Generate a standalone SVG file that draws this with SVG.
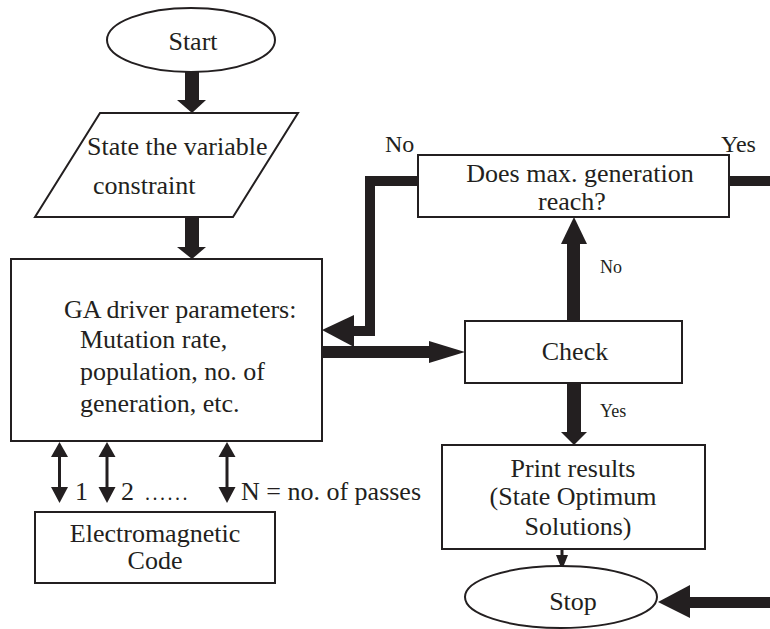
<svg xmlns="http://www.w3.org/2000/svg" width="770" height="629" viewBox="0 0 770 629">
<style>
.box{fill:#fff;stroke:#231f20;stroke-width:2}
text{font-family:'Liberation Serif','DejaVu Serif',serif;fill:#231f20}
.t{font-size:26px}
.s{font-size:18px}
.c{text-anchor:middle}
.f{fill:#231f20;stroke:none}
.th{fill:none;stroke:#231f20;stroke-width:10;stroke-linejoin:miter}
</style>
<rect width="770" height="629" fill="#fff"/>
<g id="connectors">
  <rect class="f" x="185" y="72" width="14" height="29"/>
  <polygon class="f" points="177,100 206,100 192,113"/>
  <rect class="f" x="185" y="217" width="14" height="31"/>
  <polygon class="f" points="177,247 206,247 192,259"/>
  <rect class="f" x="322" y="346" width="108" height="12"/>
  <polygon class="f" points="429,341 429,363 465,352"/>
  <rect class="f" x="567" y="243" width="13" height="78"/>
  <polygon class="f" points="561,244 587,244 574,217"/>
  <rect class="f" x="567" y="383" width="14" height="50"/>
  <polygon class="f" points="561,432 587,432 574,445"/>
  <polyline class="th" points="418,181 370,181 370,331 352,331"/>
  <polygon class="f" points="322,330 354,315 354,347"/>
  <line class="th" x1="729" y1="181" x2="770" y2="181"/>
  <rect class="f" x="689" y="597" width="81" height="11"/>
  <polygon class="f" points="690,585 690,618 658,602"/>
  <line x1="562" y1="549" x2="562" y2="557" stroke="#231f20" stroke-width="3"/>
  <polygon class="f" points="556,555 568,555 562,570"/>
  <g stroke="#231f20" stroke-width="3">
    <line x1="59.5" y1="456" x2="59.5" y2="488"/>
    <line x1="107" y1="456" x2="107" y2="488"/>
    <line x1="227" y1="456" x2="227" y2="488"/>
  </g>
  <polygon class="f" points="51,457 68,457 59.5,442"/>
  <polygon class="f" points="51,487 68,487 59.5,503"/>
  <polygon class="f" points="98.5,457 115.5,457 107,442"/>
  <polygon class="f" points="98.5,487 115.5,487 107,503"/>
  <polygon class="f" points="218.5,457 235.5,457 227,442"/>
  <polygon class="f" points="218.5,487 235.5,487 227,503"/>
  <text class="t" x="385" y="152" style="font-size:24px">No</text>
  <text class="t" x="721" y="152" style="font-size:24px">Yes</text>
  <text class="s" x="600" y="273">No</text>
  <text class="s" x="600" y="417">Yes</text>
  <text class="t" x="75" y="500">1</text>
  <text class="t" x="121" y="500">2</text>
  <text class="s" x="145" y="500" style="font-size:20px;letter-spacing:2.5px">......</text>
  <text class="t" x="241" y="500">N = no. of passes</text>
</g>
<g id="start">
  <ellipse class="box" cx="191" cy="40" rx="84" ry="32"/>
  <text class="t c" x="193" y="50">Start</text>
</g>
<g id="state">
  <polygon class="box" points="100,113 298,113 233,217 35,217"/>
  <text class="t" x="87" y="155">State the variable</text>
  <text class="t" x="93" y="194">constraint</text>
</g>
<g id="ga">
  <rect class="box" x="11" y="259" width="311" height="182"/>
  <text class="t" x="64" y="318">GA driver parameters:</text>
  <text class="t" x="80" y="348">Mutation rate,</text>
  <text class="t" x="80" y="380">population, no. of</text>
  <text class="t" x="80" y="412">generation, etc.</text>
</g>
<g id="decision">
  <rect class="box" x="418" y="155" width="311" height="62"/>
  <text class="t c" x="580" y="182">Does max. generation</text>
  <text class="t c" x="572" y="210">reach?</text>
</g>
<g id="check">
  <rect class="box" x="465" y="321" width="217" height="62"/>
  <text class="t c" x="575" y="360">Check</text>
</g>
<g id="print">
  <rect class="box" x="442" y="445" width="263" height="104"/>
  <text class="t c" x="573" y="477">Print results</text>
  <text class="t c" x="573" y="505">(State Optimum</text>
  <text class="t c" x="578" y="535">Solutions)</text>
</g>
<g id="stop">
  <ellipse class="box" cx="561" cy="597" rx="96" ry="31"/>
  <text class="t c" x="573" y="610">Stop</text>
</g>
<g id="em">
  <rect class="box" x="35" y="512" width="240" height="71"/>
  <text class="t c" x="155" y="542">Electromagnetic</text>
  <text class="t c" x="155" y="569">Code</text>
</g>
</svg>
